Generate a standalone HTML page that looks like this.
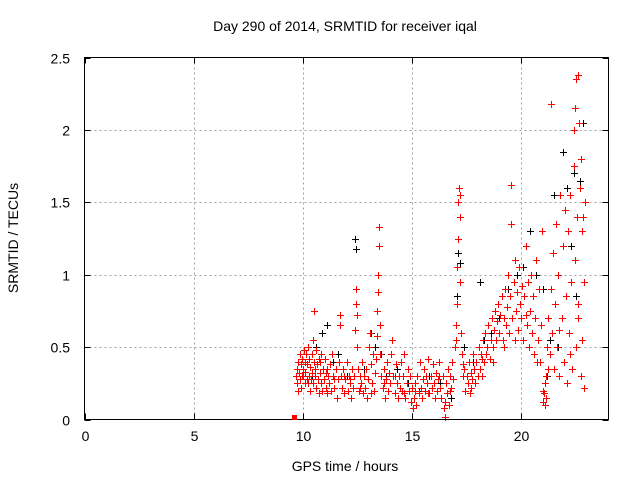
<!DOCTYPE html>
<html><head><meta charset="utf-8"><style>
body{margin:0;background:#fff;font-family:"Liberation Sans",sans-serif}
</style></head><body>
<svg id="chart" width="640" height="480" xmlns="http://www.w3.org/2000/svg" font-family="Liberation Sans, sans-serif" font-size="14">
<rect width="640" height="480" fill="#fff"/>
<text x="345" y="31" text-anchor="middle" font-size="14">Day 290 of 2014, SRMTID for receiver iqal</text>
<text x="345" y="471" text-anchor="middle">GPS time / hours</text>
<text transform="translate(18,238) rotate(-90)" text-anchor="middle">SRMTID / TECUs</text>
<g id="grid"></g>
<g id="ticks"></g>
<g id="black" stroke="#000" stroke-width="1"></g>
<g id="red" stroke="#f00" stroke-width="1"></g>
<rect x="84.5" y="57.5" width="524" height="362" fill="none" stroke="#000"/>
<rect x="292" y="415" width="5" height="5" fill="#f00"/>
</svg>
<script>
const xTicks=[0,5,10,15,20];
const yTicks=[0,0.5,1,1.5,2,2.5];
const yTickLabels=["0","0.5","1","1.5","2","2.5"];
const redPts=[[9.7,0.3],[9.72,0.35],[9.75,0.25],[9.8,0.4],[9.82,0.32],[9.85,0.45],[9.88,0.28],[9.9,0.38],[9.93,0.22],[9.95,0.42],[10,0.35],[10.02,0.3],[10.05,0.48],[10.08,0.25],[10.1,0.4],[10.12,0.33],[10.15,0.45],[10.18,0.28],[10.2,0.38],[10.25,0.5],[10.28,0.3],[10.3,0.42],[10.33,0.2],[10.35,0.36],[10.38,0.28],[10.4,0.45],[10.42,0.32],[10.45,0.55],[10.48,0.25],[10.5,0.4],[10.52,0.75],[10.55,0.3],[10.6,0.48],[10.62,0.22],[10.65,0.38],[10.7,0.28],[10.72,0.42],[10.75,0.18],[10.8,0.32],[10.82,0.25],[10.85,0.45],[10.9,0.2],[10.92,0.35],[10.95,0.28],[11,0.42],[11.05,0.22],[11.08,0.32],[11.1,0.18],[11.15,0.3],[11.2,0.25],[11.25,0.38],[11.3,0.2],[11.35,0.45],[11.4,0.3],[11.45,0.22],[11.5,0.35],[11.55,0.15],[11.6,0.28],[11.65,0.4],[11.7,0.72],[11.72,0.65],[11.75,0.3],[11.8,0.22],[11.85,0.35],[11.9,0.18],[11.95,0.28],[12,0.4],[12.05,0.2],[12.1,0.3],[12.15,0.25],[12.2,0.15],[12.25,0.35],[12.3,0.22],[12.35,0.3],[12.4,0.62],[12.42,0.8],[12.45,0.9],[12.48,0.72],[12.5,0.5],[12.52,0.35],[12.55,0.2],[12.6,0.3],[12.65,0.25],[12.7,0.4],[12.75,0.18],[12.8,0.3],[12.85,0.22],[12.9,0.35],[12.95,0.15],[13,0.28],[13.05,0.5],[13.08,0.6],[13.1,0.38],[13.15,0.25],[13.2,0.45],[13.25,0.2],[13.3,0.32],[13.35,0.42],[13.38,0.58],[13.4,0.75],[13.42,0.88],[13.45,1.0],[13.47,1.2],[13.5,1.33],[13.52,0.65],[13.55,0.45],[13.6,0.3],[13.65,0.22],[13.7,0.35],[13.75,0.15],[13.8,0.28],[13.85,0.4],[13.9,0.2],[13.95,0.32],[14,0.25],[14.05,0.45],[14.1,0.55],[14.15,0.3],[14.2,0.18],[14.25,0.38],[14.3,0.25],[14.35,0.15],[14.4,0.3],[14.45,0.22],[14.5,0.4],[14.55,0.2],[14.6,0.3],[14.65,0.45],[14.7,0.15],[14.75,0.25],[14.8,0.35],[14.85,0.2],[14.9,0.3],[14.95,0.12],[15,0.22],[15.05,0.08],[15.1,0.15],[15.15,0.25],[15.2,0.1],[15.25,0.3],[15.3,0.18],[15.35,0.4],[15.4,0.22],[15.45,0.15],[15.5,0.28],[15.55,0.35],[15.6,0.2],[15.65,0.3],[15.7,0.25],[15.75,0.42],[15.8,0.18],[15.85,0.3],[15.9,0.22],[15.95,0.38],[16,0.25],[16.05,0.15],[16.1,0.32],[16.15,0.2],[16.2,0.28],[16.25,0.4],[16.3,0.22],[16.35,0.15],[16.4,0.3],[16.45,0.08],[16.5,0.02],[16.52,0.12],[16.55,0.25],[16.6,0.18],[16.65,0.35],[16.7,0.1],[16.75,0.3],[16.8,0.22],[16.85,0.4],[16.9,0.28],[16.95,0.5],[17,0.55],[17.02,0.65],[17.05,0.8],[17.08,1.05],[17.1,1.25],[17.12,1.5],[17.15,1.6],[17.18,1.55],[17.2,1.4],[17.22,0.95],[17.25,0.6],[17.3,0.45],[17.35,0.3],[17.4,0.35],[17.45,0.2],[17.5,0.3],[17.55,0.25],[17.6,0.4],[17.65,0.18],[17.7,0.32],[17.75,0.28],[17.8,0.45],[17.85,0.35],[17.9,0.25],[17.95,0.4],[18,0.3],[18.05,0.5],[18.1,0.35],[18.15,0.45],[18.2,0.3],[18.25,0.55],[18.3,0.4],[18.35,0.6],[18.4,0.45],[18.45,0.5],[18.5,0.65],[18.55,0.42],[18.6,0.55],[18.65,0.7],[18.7,0.5],[18.75,0.62],[18.8,0.75],[18.85,0.55],[18.9,0.68],[18.95,0.8],[19,0.6],[19.05,0.72],[19.1,0.85],[19.15,0.55],[19.2,0.7],[19.25,0.9],[19.3,0.65],[19.35,0.78],[19.4,1.0],[19.45,0.6],[19.5,0.85],[19.52,1.62],[19.55,1.35],[19.6,0.7],[19.65,0.95],[19.7,1.1],[19.75,0.75],[19.8,0.88],[19.85,0.62],[19.9,1.05],[19.95,0.8],[20,0.7],[20.05,0.92],[20.1,0.55],[20.15,0.85],[20.2,1.2],[20.25,0.65],[20.3,0.95],[20.35,0.5],[20.4,0.75],[20.45,1.0],[20.5,0.6],[20.55,0.85],[20.6,0.45],[20.65,0.7],[20.7,1.1],[20.75,0.55],[20.8,0.9],[20.85,0.4],[20.9,0.65],[20.95,1.3],[21,0.2],[21.02,0.12],[21.05,0.18],[21.08,0.1],[21.1,0.25],[21.12,0.15],[21.15,0.3],[21.2,0.5],[21.25,0.7],[21.3,0.45],[21.35,0.9],[21.38,2.18],[21.4,0.6],[21.45,1.15],[21.5,0.35],[21.55,0.8],[21.6,1.35],[21.65,0.5],[21.7,1.0],[21.75,0.3],[21.8,1.55],[21.85,0.7],[21.9,1.2],[21.95,0.4],[22,1.45],[22.05,0.85],[22.1,0.25],[22.15,1.3],[22.2,0.6],[22.25,1.55],[22.3,0.95],[22.35,0.35],[22.4,1.75],[22.42,2.0],[22.45,1.1],[22.48,2.15],[22.5,0.5],[22.52,2.35],[22.55,1.4],[22.6,2.38],[22.62,0.8],[22.65,2.05],[22.7,1.6],[22.72,0.3],[22.75,1.8],[22.78,1.3],[22.8,0.55],[22.85,1.4],[22.88,0.95],[22.9,0.22],[22.92,1.5],
[9.78,0.2],[9.98,0.3],[10.22,0.25],[10.58,0.35],[10.78,0.4],[11.12,0.35],[11.42,0.28],[11.88,0.3],[12.18,0.28],[12.62,0.22],[13.12,0.18],[13.72,0.25],[14.22,0.3],[14.62,0.18],[15.12,0.2],[15.72,0.18],[16.22,0.3],[16.72,0.2],[17.32,0.38],[17.72,0.22],[18.22,0.42],[18.72,0.4],[19.22,0.5],[19.72,0.55],[20.22,0.72],[20.72,0.4],[21.22,0.35],[21.72,0.62],[22.22,0.45],[22.62,0.7]];
const blackPts=[[10.1,0.4],[10.4,0.3],[10.6,0.5],[10.9,0.6],[11.1,0.65],[11.4,0.4],[11.6,0.45],[12.0,0.3],[12.4,1.25],[12.45,1.18],[12.8,0.35],[13.1,0.6],[13.3,0.5],[13.6,0.45],[13.8,0.3],[14.3,0.35],[14.8,0.25],[15.3,0.2],[15.8,0.3],[16.3,0.25],[16.8,0.15],[17.05,0.85],[17.1,1.15],[17.2,1.08],[17.4,0.5],[17.8,0.4],[18.1,0.95],[18.3,0.55],[18.6,0.6],[19.0,0.7],[19.4,0.9],[19.8,1.0],[20.1,1.05],[20.4,1.3],[20.7,1.0],[21.0,0.9],[21.3,0.55],[21.5,1.55],[21.7,0.5],[21.9,1.85],[22.1,1.6],[22.3,1.2],[22.5,0.85],[22.7,1.65],[22.85,2.05],[22.4,1.7],[21.2,0.3]];
const X0=84.5,X1=608.5,Y0=419.5,Y1=57.5,XMAX=24,YMAX=2.5;
const xs=v=>X0+(X1-X0)*v/XMAX, ys=v=>Y0-(Y0-Y1)*v/YMAX;
const NS="http://www.w3.org/2000/svg";
function mk(tag,attrs,parent){const e=document.createElementNS(NS,tag);for(const k in attrs)e.setAttribute(k,attrs[k]);parent.appendChild(e);return e;}
const grid=document.getElementById('grid'),ticks=document.getElementById('ticks');
xTicks.forEach((t,i)=>{const x=Math.round(xs(t))+0.5;
 if(t>0){const g=mk('line',{x1:x,x2:x,y1:Y1,y2:Y0,stroke:'#a0a0a0','stroke-dasharray':'2,3'},grid);
 
 }
 mk('line',{x1:x,x2:x,y1:Y0,y2:Y0-6,stroke:'#000'},ticks);mk('line',{x1:x,x2:x,y1:Y1,y2:Y1+6,stroke:'#000'},ticks);
 const l=mk('text',{x:x,y:441,'text-anchor':'middle','font-size':14},ticks);l.textContent=String(t);
 
 });
yTicks.forEach((t,i)=>{const y=Math.round(ys(t))+0.5;
 if(t>0&&t<YMAX){const g=mk('line',{x1:X0,x2:X1,y1:y,y2:y,stroke:'#a0a0a0','stroke-dasharray':'2,3'},grid);
 
 }
 mk('line',{x1:X0,x2:X0+6,y1:y,y2:y,stroke:'#000'},ticks);mk('line',{x1:X1,x2:X1-6,y1:y,y2:y,stroke:'#000'},ticks);
 const l=mk('text',{x:70,y:y+5,'text-anchor':'end','font-size':14},ticks);l.textContent=yTickLabels[i];
 
 });
function plus(g,t,v,name){const x=Math.round(xs(t))+0.5,y=Math.round(ys(v))+0.5;
 const p=mk('path',{d:`M${x-3.5},${y}h7M${x},${y-3.5}v7`},g);
 
 }
const bg=document.getElementById('black'),rg=document.getElementById('red');
blackPts.forEach(p=>plus(bg,p[0],p[1],'black-point'));
redPts.forEach(p=>plus(rg,p[0],p[1],'red-point'));
</script>
</body></html>
